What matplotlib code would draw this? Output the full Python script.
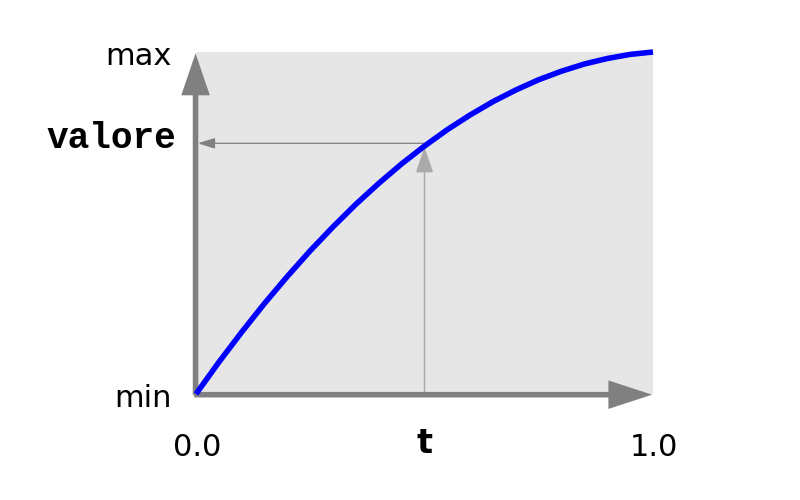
import numpy as np
import matplotlib
matplotlib.use("Agg")
import matplotlib.pyplot as plt
from matplotlib.patches import FancyArrowPatch

# curve (t in 0..1, value in 0..1 between min and max)
t_vals = [0.0, 0.05, 0.1, 0.15, 0.2, 0.25, 0.3, 0.35, 0.4, 0.45, 0.5,
          0.55, 0.6, 0.65, 0.7, 0.75, 0.8, 0.85, 0.9, 0.95, 1.0]
v_vals = [0.0, 0.093, 0.181, 0.265, 0.344, 0.419, 0.489, 0.555, 0.616, 0.673, 0.725,
          0.773, 0.816, 0.855, 0.889, 0.919, 0.944, 0.965, 0.981, 0.993, 1.0]

t_pick = 0.5
v_pick = 0.733
x_ticks = [0.0, 1.0]
x_labels = ["0.0", "1.0"]
y_labels = ["min", "max"]

W, H = 800, 500
fig = plt.figure(figsize=(8, 5), dpi=100)
# axes box in pixels: x 196..653, y 52..394
ax = fig.add_axes([196 / W, (H - 394) / H, (653 - 196) / W, (394 - 52) / H])
ax.set_xlim(0, 1)
ax.set_ylim(0, 1)
ax.set_facecolor("#e6e6e6")
for s in ax.spines.values():
    s.set_visible(False)
ax.set_xticks([])
ax.set_yticks([])

axis_col = "#808080"


def arrow(p0, p1, color, lw, hl, hw, z=3):
    a = FancyArrowPatch(p0, p1, arrowstyle=f"-|>,head_length={hl},head_width={hw}",
                        mutation_scale=1, color=color, lw=lw, shrinkA=0, shrinkB=0,
                        clip_on=False, zorder=z, joinstyle="miter", capstyle="butt")
    ax.add_patch(a)


# main axes (thick gray arrows)
arrow((-0.001, -0.003), (-0.001, 0.996), axis_col, 4.0, 22, 7.5, z=4)
arrow((-0.004, -0.002), (0.998, -0.002), axis_col, 4.0, 23, 7.5, z=4)

# guide arrows
arrow((t_pick, 0.0), (t_pick, 0.722), "#aaaaaa", 1.1, 16, 5.5, z=2)
arrow((t_pick, v_pick), (0.004, v_pick), "#808080", 0.9, 10.5, 3.3, z=2)

ax.plot(t_vals, v_vals, color="#0000ff", lw=4.0, zorder=5, clip_on=False,
        solid_capstyle="butt")

lab = dict(fontsize=22, family="DejaVu Sans", color="black", clip_on=False)
ax.text(-0.053, -0.037, y_labels[0], ha="right", va="baseline", **lab)
ax.text(-0.053, 0.962, y_labels[1], ha="right", va="baseline", **lab)
for xt, xl in zip(x_ticks, x_labels):
    ax.text(xt + 0.003, -0.18, xl, ha="center", va="baseline", **lab)

ax.text(-0.044, 0.718, "valore", ha="right", va="baseline", fontsize=26,
        family="Liberation Mono", fontweight="bold", clip_on=False)
ax.text(t_pick, -0.172, "t", ha="center", va="baseline", fontsize=24,
        family="DejaVu Sans", fontweight="bold", clip_on=False)

fig.savefig("out.png", dpi=100, facecolor="white")
